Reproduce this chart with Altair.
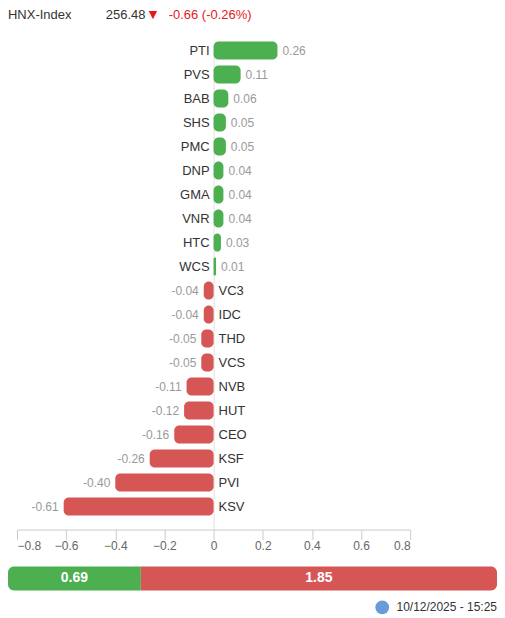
import altair as alt
import pandas as pd

# ---- data ----
tickers = ["PTI", "PVS", "BAB", "SHS", "PMC", "DNP", "GMA", "VNR", "HTC", "WCS",
           "VC3", "IDC", "THD", "VCS", "NVB", "HUT", "CEO", "KSF", "PVI", "KSV"]
values = [0.26, 0.11, 0.06, 0.05, 0.05, 0.04, 0.04, 0.04, 0.03, 0.01,
          -0.04, -0.04, -0.05, -0.05, -0.11, -0.12, -0.16, -0.26, -0.40, -0.61]
axis_ticks = [-0.8, -0.6, -0.4, -0.2, 0, 0.2, 0.4, 0.6, 0.8]

index_name = "HNX-Index"
index_value = "256.48"
index_arrow = "▼"
index_change = "-0.66 (-0.26%)"

breadth_sides = ["up", "down"]
breadth_labels = ["0.69", "1.85"]
breadth_values = [0.69, 1.85]
timestamp = "10/12/2025 - 15:25"

GREEN = "#4caf50"
RED = "#d65656"
FONT = "Liberation Sans"

df = pd.DataFrame({"ticker": tickers, "value": values})
df["label"] = [f"{v:.2f}" for v in values]
df["zero"] = 0.0

W = 490
xscale = alt.Scale(domain=[-0.8, 0.8], range=[9, 403], nice=False, zero=False)
yscale = alt.Scale(domain=tickers, range=[0, 481], paddingInner=0.25, paddingOuter=0.125)

base = alt.Chart(df)

bars = base.mark_bar(cornerRadius=5).encode(
    x=alt.X("value:Q", scale=xscale,
            axis=alt.Axis(values=axis_ticks, format=".1~f", title=None,
                          domainColor="#cccccc", tickColor="#cccccc", tickSize=10,
                          labelColor="#666666", labelFontSize=12, labelFont=FONT,
                          labelPadding=1, labelFlush=True,
                          gridColor="#e0e0e0",
                          gridOpacity=alt.condition("datum.value === 0", alt.value(1), alt.value(0)))),
    x2=alt.X2("zero:Q"),
    y=alt.Y("ticker:N", scale=yscale, axis=None),
    color=alt.condition("datum.value >= 0", alt.value(GREEN), alt.value(RED)),
)

pos = base.transform_filter("datum.value >= 0")
neg = base.transform_filter("datum.value < 0")

tick_pos = pos.mark_text(align="right", baseline="middle", dx=-4, fontSize=13,
                         font=FONT, color="#333333").encode(
    x=alt.X("zero:Q", scale=xscale), y=alt.Y("ticker:N", scale=yscale), text="ticker:N")
tick_neg = neg.mark_text(align="left", baseline="middle", dx=5, fontSize=13,
                         font=FONT, color="#333333").encode(
    x=alt.X("zero:Q", scale=xscale), y=alt.Y("ticker:N", scale=yscale), text="ticker:N")
val_pos = pos.mark_text(align="left", baseline="middle", dx=5, fontSize=12,
                        font=FONT, color="#999999").encode(
    x=alt.X("value:Q", scale=xscale), y=alt.Y("ticker:N", scale=yscale), text="label:N")
val_neg = neg.mark_text(align="right", baseline="middle", dx=-5, fontSize=12,
                        font=FONT, color="#999999").encode(
    x=alt.X("value:Q", scale=xscale), y=alt.Y("ticker:N", scale=yscale), text="label:N")

hdr = alt.Chart(pd.DataFrame({"t": [index_name]})).mark_text(
    align="left", baseline="middle", fontSize=13, font=FONT, color="#333333").encode(
    x=alt.value(0), y=alt.value(-24), text="t:N")
hdr_val = alt.Chart(pd.DataFrame({"t": [index_value]})).mark_text(
    align="left", baseline="middle", fontSize=13, font=FONT, color="#333333").encode(
    x=alt.value(98), y=alt.value(-24), text="t:N")
hdr_arrow = alt.Chart(pd.DataFrame({"t": [index_arrow]})).mark_text(
    align="left", baseline="middle", fontSize=11, font="DejaVu Sans", color="#e31a1c").encode(
    x=alt.value(141), y=alt.value(-24), text="t:N")
hdr_chg = alt.Chart(pd.DataFrame({"t": [index_change]})).mark_text(
    align="left", baseline="middle", fontSize=13, font=FONT, color="#e31a1c").encode(
    x=alt.value(161), y=alt.value(-24), text="t:N")

main = alt.layer(bars, tick_pos, tick_neg, val_pos, val_neg,
                 hdr, hdr_val, hdr_arrow, hdr_chg).properties(width=W, height=492)

# ---- bottom breadth bar ----
total = sum(breadth_values)
bdf = pd.DataFrame({"side": breadth_sides, "amount": breadth_values,
                    "label": breadth_labels, "row": ["a", "a"]})
bdf["b0"] = bdf["amount"].cumsum() - bdf["amount"]
bdf["b1"] = bdf["amount"].cumsum()
bdf["mid"] = (bdf["b0"] + bdf["b1"]) / 2
bscale = alt.Scale(domain=[0, total], range=[0, W], nice=False, zero=False)
brow = alt.Y("row:N", axis=None, scale=alt.Scale(paddingInner=0, paddingOuter=0))

bb = alt.Chart(bdf)
up_bar = bb.transform_filter("datum.side == 'up'").mark_bar(
    cornerRadiusTopLeft=6, cornerRadiusBottomLeft=6, color=GREEN).encode(
    x=alt.X("b0:Q", scale=bscale, axis=None), x2="b1:Q", y=brow)
down_bar = bb.transform_filter("datum.side == 'down'").mark_bar(
    cornerRadiusTopRight=6, cornerRadiusBottomRight=6, color=RED).encode(
    x=alt.X("b0:Q", scale=bscale, axis=None), x2="b1:Q", y=brow)
blabels = bb.mark_text(color="white", fontSize=14, fontWeight="bold", font=FONT,
                       baseline="middle").encode(
    x=alt.X("mid:Q", scale=bscale, axis=None), y=brow, text="label:N")

icon = alt.Chart(pd.DataFrame({"t": [timestamp]})).mark_point(
    filled=True, shape="circle", size=190, color="#6b9bd6", opacity=1).encode(
    x=alt.value(375), y=alt.value(41))
ts = alt.Chart(pd.DataFrame({"t": [timestamp]})).mark_text(
    align="right", baseline="middle", fontSize=12, font=FONT, color="#333333").encode(
    x=alt.value(490), y=alt.value(41), text="t:N")

bottom = alt.layer(up_bar, down_bar, blabels, icon, ts).properties(width=W, height=24)

chart = alt.vconcat(main, bottom, spacing=37, bounds="flush").resolve_scale(
    x="independent", y="independent"
).properties(
    padding={"left": 0, "top": 0, "right": 0, "bottom": 0}
).configure_view(stroke=None)

chart.save("out.html", embed_options={"renderer": "svg", "actions": False})
